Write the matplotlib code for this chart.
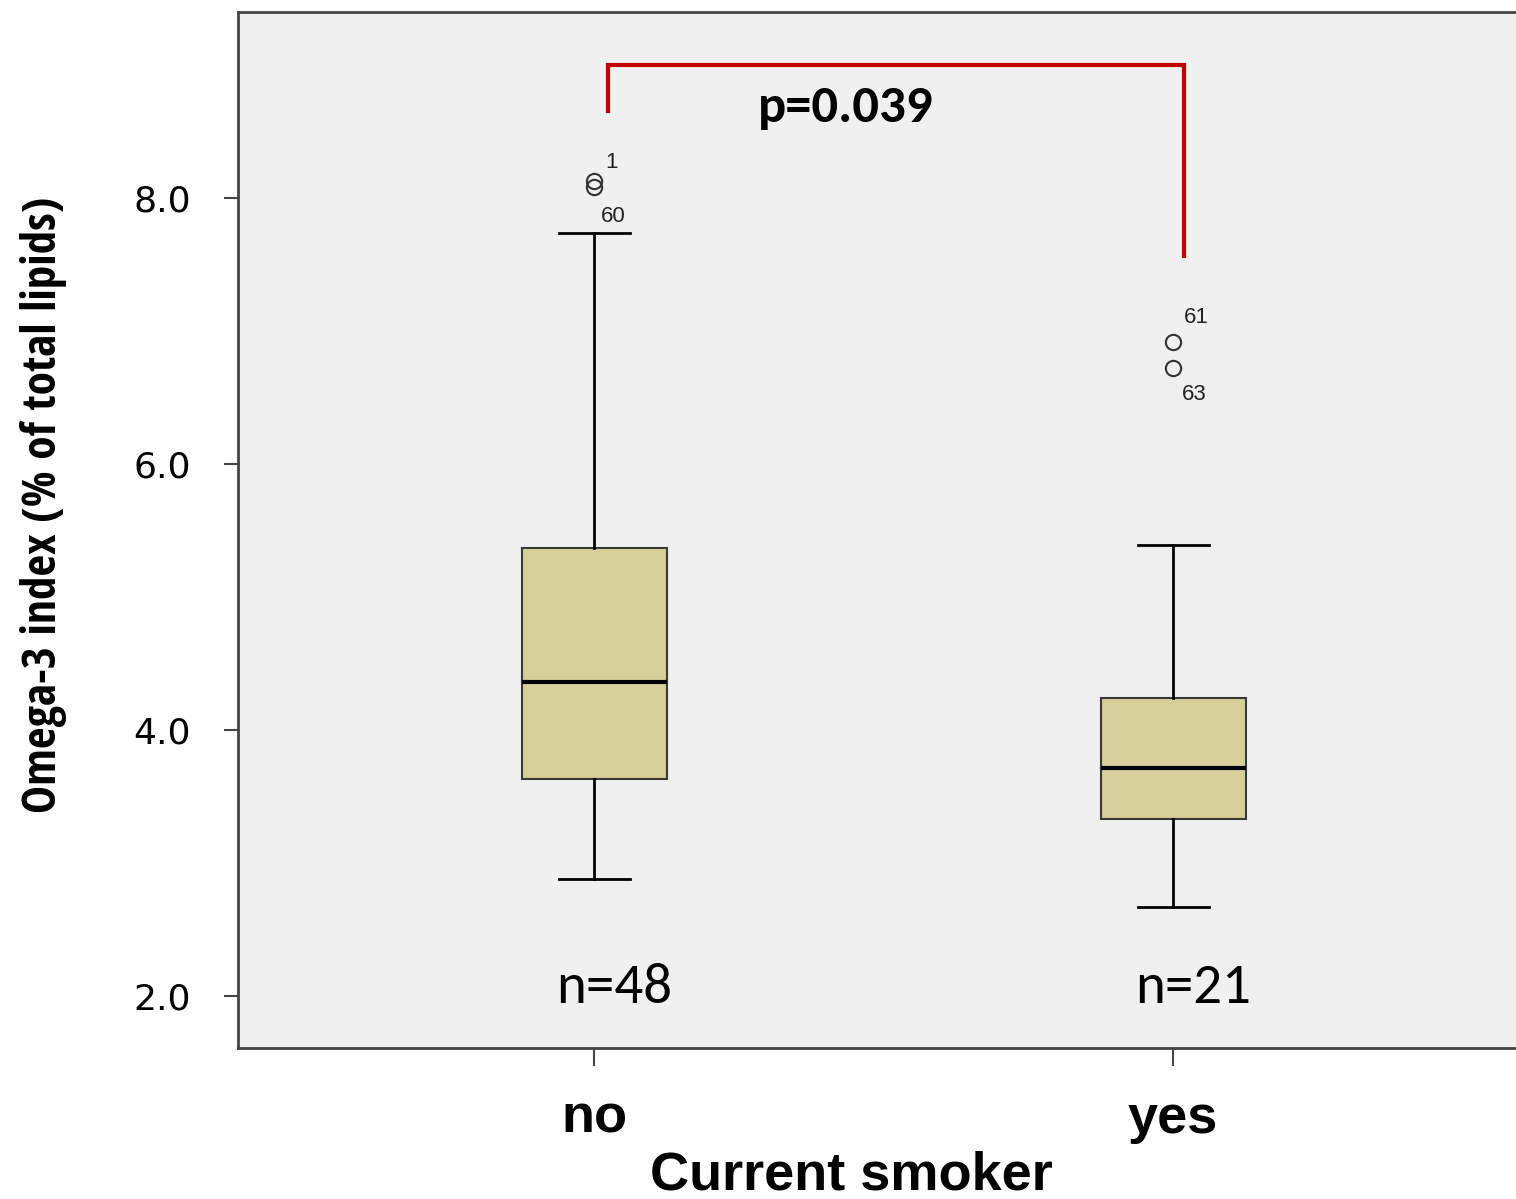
import matplotlib.pyplot as plt

groups = ['no', 'yes']
n_counts = [48, 21]
q1 = [3.63, 3.33]
medians = [4.36, 3.71]
q3 = [5.37, 4.24]
whisk_lo = [2.88, 2.67]
whisk_hi = [7.74, 5.39]
outliers = [[8.13, 8.08], [6.92, 6.72]]
outlier_ids = [['1', '60'], ['61', '63']]
p_text = 'p=0.039'

arial = ['Liberation Sans', 'DejaVu Sans']
calib = ['Carlito', 'PT Sans Narrow', 'DejaVu Sans']

fig = plt.figure(figsize=(15.16, 11.99), dpi=100)
ax = fig.add_axes([0.157, 0.126, 0.843, 0.864])
ax.set_facecolor('#f0f0f0')

positions = [1, 2]
stats = []
for i, g in enumerate(groups):
    stats.append({'label': g, 'med': medians[i], 'q1': q1[i], 'q3': q3[i],
                  'whislo': whisk_lo[i], 'whishi': whisk_hi[i], 'fliers': outliers[i]})

ax.bxp(stats, positions=positions, widths=0.25, capwidths=0.123, patch_artist=True,
       boxprops=dict(facecolor='#d6cf99', edgecolor='#3a3a3a', linewidth=1.5),
       medianprops=dict(color='black', linewidth=3),
       whiskerprops=dict(color='black', linewidth=2),
       capprops=dict(color='black', linewidth=2),
       flierprops=dict(marker='o', markersize=11, markerfacecolor='none',
                       markeredgecolor='#333333', markeredgewidth=1.5))

# outlier case numbers (offsets in points)
hi_off = [(8, 13), (8, 17)]
lo_off = [(5, -21), (6, -19)]
for i in range(len(groups)):
    hi, lo = outliers[i]
    ax.annotate(outlier_ids[i][0], (positions[i], hi), xytext=hi_off[i],
                textcoords='offset points', fontsize=16, color='#222222',
                family=arial, ha='left', va='center')
    ax.annotate(outlier_ids[i][1], (positions[i], lo), xytext=lo_off[i],
                textcoords='offset points', fontsize=16, color='#222222',
                family=arial, ha='left', va='center')

# sample sizes
for i in range(len(groups)):
    ax.text(positions[i] + 0.035, 2.06, 'n=%d' % n_counts[i], fontsize=41,
            family=calib, ha='center', va='center')

# significance bracket
ax.plot([1.024, 1.024, 2.019, 2.019], [8.65, 9.0, 9.0, 7.56],
        color='#c00000', linewidth=3, solid_joinstyle='miter')
ax.text(1.434, 8.68, p_text, fontsize=38, fontweight='bold', family=calib,
        ha='center', va='center')

ax.set_xlim(0.385, 2.592)
ax.set_ylim(1.609, 9.398)
ax.set_yticks([2, 4, 6, 8])
ax.set_yticklabels(['2.0', '4.0', '6.0', '8.0'], fontsize=26)
ax.set_xticks(positions)
ax.set_xticklabels(groups, fontsize=39, fontweight='bold', family=arial)
ax.tick_params(axis='y', length=10, width=1.5, color='#444444', pad=24)
ax.tick_params(axis='x', length=13, width=1.5, color='#444444', pad=20)

for s in ['left', 'bottom', 'top']:
    ax.spines[s].set_linewidth(2)
    ax.spines[s].set_color('#444444')
ax.spines['right'].set_visible(False)

ax.set_xlabel('Current smoker', fontsize=39, fontweight='bold', family=arial)
ax.xaxis.set_label_coords(0.48, -0.099)
ax.set_ylabel('Omega-3 index (% of total lipids)', fontsize=34, fontweight='bold',
              family=['Open Sans Condensed', 'PT Sans Narrow', 'DejaVu Sans'])
ax.yaxis.set_label_coords(-0.134, 0.524)

fig.savefig('out.png', dpi=100)
